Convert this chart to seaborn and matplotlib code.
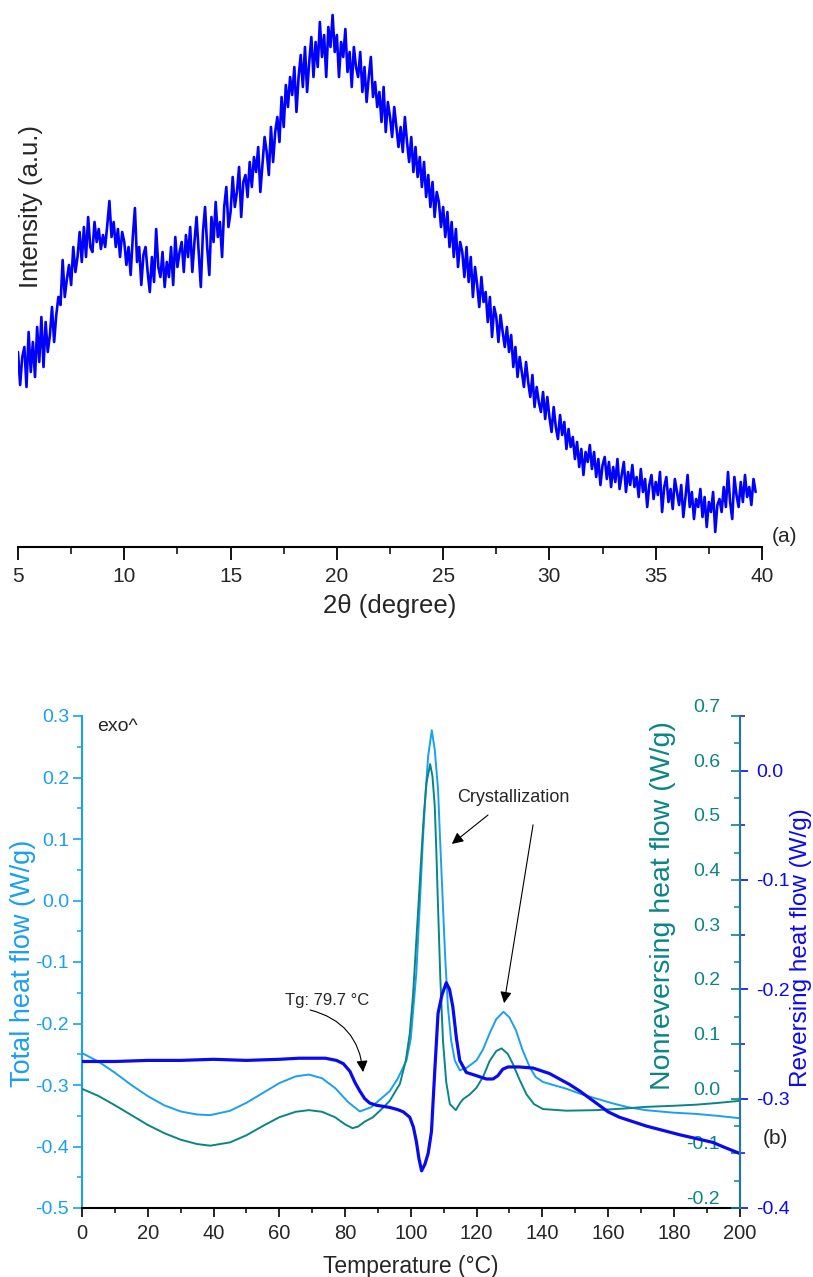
import numpy as np
import pandas as pd
import matplotlib
matplotlib.use("Agg")
import matplotlib.pyplot as plt
import seaborn as sns
from matplotlib.ticker import MultipleLocator

# ---------------- (a) XRD pattern ----------------
xrd_start = 5.0
xrd_step = 0.1
xrd_intensity = [
    195, 162, 190, 200, 160, 215, 175, 205, 170, 220,
    185, 230, 180, 225, 195, 212, 240, 205, 232, 250,
    242, 287, 250, 268, 282, 262, 300, 275, 290, 315,
    285, 320, 290, 330, 300, 295, 325, 305, 318, 298,
    312, 300, 322, 346, 310, 325, 300, 318, 290, 315,
    305, 282, 300, 272, 310, 339, 285, 300, 262, 292,
    300, 275, 255, 290, 265, 318, 280, 270, 295, 260,
    285, 270, 300, 262, 310, 280, 295, 305, 275, 312,
    290, 320, 275, 305, 330, 295, 260, 315, 340, 300,
    272, 330, 305, 345, 310, 325, 290, 340, 360, 320,
    335, 370, 340, 355, 380, 330, 365, 372, 350, 385,
    360, 390, 375, 400, 355, 382, 410, 395, 372, 420,
    385, 415, 430, 405, 450, 420, 462, 440, 470, 452,
    480, 435, 470, 492, 460, 500, 455, 485, 510, 470,
    505, 480, 525, 490, 512, 470, 520, 500, 532, 495,
    512, 470, 505, 490, 518, 475, 495, 460, 500, 480,
    470, 495, 455, 480, 445, 470, 490, 450, 465, 440,
    455, 425, 460, 415, 445, 430, 410, 440, 420, 400,
    420, 395, 430, 405, 385, 410, 375, 400, 370, 390,
    360, 385, 350, 372, 340, 365, 330, 355, 345, 320,
    340, 310, 335, 300, 325, 290, 318, 280, 305, 295,
    270, 300, 265, 290, 250, 280, 262, 240, 270, 245,
    255, 225, 250, 210, 240, 230, 205, 232, 215, 200,
    220, 195, 212, 180, 200, 170, 190, 175, 160, 185,
    165, 150, 172, 140, 160, 145, 135, 155, 128, 150,
    130, 115, 140, 120, 108, 132, 112, 125, 98, 118,
    100, 110, 88, 105, 80, 98, 72, 95, 85, 102,
    78, 95, 70, 88, 62, 82, 90, 68, 85, 60,
    80, 65, 88, 58, 72, 85, 55, 75, 62, 82,
    60, 70, 50, 78, 55, 68, 40, 62, 72, 48,
    65, 52, 75, 35, 60, 70, 45, 58, 38, 68,
    55, 42, 62, 30, 50, 72, 40, 55, 28, 48,
    40, 58, 30, 50, 20, 45, 35, 55, 15, 42,
    48, 35, 60, 40, 75, 45, 28, 70, 52, 40,
    65, 45, 72, 50, 60, 42, 68, 55,
]
two_theta = [round(xrd_start + xrd_step * i, 2) for i in range(len(xrd_intensity))]
xrd_ticks = [5, 10, 15, 20, 25, 30, 35, 40]

# ---------------- (b) DSC curves ----------------
total_T = [0, 5, 10, 15, 20, 25, 30, 35, 39, 45, 50, 55, 60, 65, 69, 73, 77, 81,
           84.5, 88, 91, 93.6, 96, 98.7, 100, 101.7, 103, 103.7, 104.5, 105.3,
           106.4, 107.3, 108.3, 109, 109.8, 110.5, 111.3, 112.3, 113.4, 114.9,
           117, 120, 122, 124, 126, 128.2, 130, 132, 134, 136.2, 138, 140.2,
           144, 147.3, 151.4, 156.4, 161.5, 166, 171.6, 180, 186.8, 193, 200]
total_hf = [-0.248, -0.262, -0.280, -0.300, -0.318, -0.333, -0.343, -0.348, -0.349,
            -0.342, -0.329, -0.313, -0.297, -0.286, -0.283, -0.289, -0.305, -0.328,
            -0.343, -0.336, -0.322, -0.310, -0.290, -0.260, -0.225, -0.118, 0.020,
            0.099, 0.175, 0.235, 0.277, 0.245, 0.181, 0.090, -0.010, -0.095, -0.173,
            -0.228, -0.260, -0.276, -0.272, -0.260, -0.242, -0.216, -0.193, -0.181,
            -0.190, -0.211, -0.243, -0.271, -0.287, -0.295, -0.301, -0.306, -0.314,
            -0.322, -0.330, -0.336, -0.341, -0.345, -0.347, -0.350, -0.354]

nonrev_T = [0, 5, 10, 15, 20, 25, 30, 35, 39, 45, 50, 55, 60, 65, 69, 73, 77, 80,
            82.3, 84, 86, 88.5, 91.5, 93.6, 96.7, 98.5, 99.7, 100.7, 101.7, 102.5,
            103.2, 104, 104.8, 105.9, 106.6, 107.3, 107.8, 108.3, 109, 109.8, 110.8,
            111.9, 113.7, 115, 115.9, 118, 120, 122, 124, 126, 127.6, 129.5, 131.1,
            133, 135.2, 137.5, 140.2, 147.3, 156.4, 165, 171.6, 180, 186.8, 193, 200]
nonrev_hf = [0.018, 0.005, -0.012, -0.030, -0.048, -0.063, -0.075, -0.083, -0.086,
             -0.080, -0.067, -0.050, -0.034, -0.024, -0.021, -0.024, -0.034, -0.047,
             -0.054, -0.051, -0.042, -0.034, -0.017, -0.004, 0.027, 0.070, 0.119,
             0.190, 0.290, 0.370, 0.443, 0.520, 0.578, 0.612, 0.590, 0.535, 0.450,
             0.351, 0.220, 0.106, 0.030, -0.010, -0.021, -0.008, -0.001, 0.008, 0.020,
             0.040, 0.069, 0.087, 0.092, 0.082, 0.063, 0.036, 0.008, -0.010, -0.019,
             -0.022, -0.021, -0.018, -0.015, -0.013, -0.011, -0.008, -0.004]

rev_T = [0, 10, 20, 30, 40, 50, 60, 66, 70, 74, 77.4, 79.5, 81.5, 83, 84.5, 86,
         87.5, 89.5, 93.6, 96, 97.7, 99.7, 100.8, 101.7, 102.5, 103.3, 104.3, 105.3,
         106.3, 107.3, 108.3, 109.5, 110.8, 111.8, 112.8, 113.9, 114.9, 116.9, 120,
         123, 125, 126.5, 128, 129.6, 133, 137.2, 142.2, 148.3, 151.4, 156.4, 160,
         163.5, 171.6, 181.8, 191.9, 195, 200]
rev_hf = [-0.266, -0.266, -0.265, -0.265, -0.264, -0.265, -0.264, -0.263, -0.263,
          -0.263, -0.265, -0.268, -0.275, -0.285, -0.293, -0.300, -0.304, -0.306,
          -0.308, -0.310, -0.312, -0.317, -0.326, -0.339, -0.355, -0.366, -0.360,
          -0.350, -0.330, -0.275, -0.222, -0.205, -0.194, -0.200, -0.216, -0.245,
          -0.265, -0.276, -0.279, -0.282, -0.282, -0.279, -0.273, -0.271, -0.271,
          -0.272, -0.277, -0.287, -0.293, -0.304, -0.312, -0.317, -0.325, -0.333,
          -0.340, -0.344, -0.350]

# ---------------- style ----------------
sns.set_theme(style="ticks")
plt.rcParams["font.family"] = ["Liberation Sans", "DejaVu Sans"]
plt.rcParams["axes.unicode_minus"] = False

C_TOTAL = "#1AA0F0"
C_NONREV = "#0A8585"
C_REV = "#0A0AEE"
C_RSPINE = "#2478A0"

fig = plt.figure(figsize=(8.13, 12.77), dpi=100)
W, H = 813.0, 1277.0

# ================= panel (a) =================
axA = fig.add_axes([18 / W, (H - 547) / H, (762 - 18) / W, (547 - 10) / H])
sns.lineplot(x=two_theta, y=xrd_intensity, ax=axA, color="#0000FF", lw=1.9,
             estimator=None, sort=False)
axA.set_xlim(5, 40)
axA.set_ylim(0, 537)
axA.set_yticks([])
for s in ["left", "top", "right"]:
    axA.spines[s].set_visible(False)
axA.spines["bottom"].set_linewidth(1.5)
axA.spines["bottom"].set_color("black")
axA.set_xticks(xrd_ticks)
axA.xaxis.set_minor_locator(MultipleLocator(2.5))
axA.tick_params(axis="x", which="major", length=9, width=1.3, labelsize=15,
                direction="out", color="black", pad=5.5)
axA.tick_params(axis="x", which="minor", length=5, width=1.1, direction="out",
                color="black")
axA.set_xlabel("2θ (degree)", fontsize=18.5, labelpad=6)
axA.set_ylabel("Intensity (a.u.)", fontsize=18.5)
axA.yaxis.set_label_coords(0.034, 0.635)
axA.text(1.013, 0.019, "(a)", transform=axA.transAxes, ha="left", va="center",
         fontsize=15)

# ================= panel (b) =================
axB = fig.add_axes([82 / W, (H - 1208) / H, (739.5 - 82) / W, (1208 - 716) / H])
ax2 = axB.twinx()
ax3 = axB.twinx()

sns.lineplot(x=total_T, y=total_hf, ax=axB, color=C_TOTAL, lw=1.4,
             estimator=None, sort=False)
sns.lineplot(x=nonrev_T, y=nonrev_hf, ax=ax2, color=C_NONREV, lw=1.4,
             estimator=None, sort=False)
sns.lineplot(x=rev_T, y=rev_hf, ax=ax3, color=C_REV, lw=2.3,
             estimator=None, sort=False)

axB.set_xlim(0, 200)
axB.set_ylim(-0.5, 0.3)
ax2.set_ylim(-0.2, 0.7)
ax3.set_ylim(-0.4, 0.05)

# left axis (total)
for s in ["top", "right"]:
    axB.spines[s].set_visible(False)
axB.spines["left"].set_color(C_TOTAL)
axB.spines["left"].set_linewidth(1.5)
axB.spines["bottom"].set_color("black")
axB.spines["bottom"].set_linewidth(1.5)
axB.set_yticks([0.3, 0.2, 0.1, 0.0, -0.1, -0.2, -0.3, -0.4, -0.5])
axB.set_yticklabels(["0.3", "0.2", "0.1", "0.0", "-0.1", "-0.2", "-0.3", "-0.4", "-0.5"])
axB.yaxis.set_minor_locator(MultipleLocator(0.05))
axB.tick_params(axis="y", which="major", length=6.7, width=1.2, color=C_TOTAL,
                labelcolor=C_TOTAL, labelsize=14, pad=2.5)
axB.tick_params(axis="y", which="minor", length=3.8, width=1.1, color=C_TOTAL)
axB.set_xticks([0, 20, 40, 60, 80, 100, 120, 140, 160, 180, 200])
axB.xaxis.set_minor_locator(MultipleLocator(10))
axB.tick_params(axis="x", which="major", length=6.5, width=1.2, color="black",
                labelsize=14.5, pad=5)
axB.tick_params(axis="x", which="minor", length=3.8, width=1.1, color="black")
axB.set_xlabel("Temperature (°C)", fontsize=16.5, labelpad=9)
axB.set_ylabel("Total heat flow (W/g)", fontsize=19.5, color=C_TOTAL)
axB.yaxis.set_label_coords(-0.070, 0.498)

# teal axis (nonreversing): spine at the right edge, labels inside
for s in ["top", "bottom", "right"]:
    ax2.spines[s].set_visible(False)
ax2.spines["left"].set_visible(True)
ax2.spines["left"].set_position(("axes", 1.0))
ax2.spines["left"].set_color(C_RSPINE)
ax2.spines["left"].set_linewidth(1.5)
ax2.yaxis.set_ticks_position("left")
ax2.yaxis.set_label_position("left")
nonrev_ticks = [0.7, 0.6, 0.5, 0.4, 0.3, 0.2, 0.1, 0.0, -0.1, -0.2]
ax2.set_yticks(nonrev_ticks, ["0.7", "0.6", "0.5", "0.4", "0.3", "0.2", "0.1",
                              "0.0", "-0.1", "-0.2"], va="bottom")
ax2.yaxis.set_minor_locator(MultipleLocator(0.05))
ax2.tick_params(axis="y", which="major", direction="out", length=6.5, width=1.2,
                color=C_NONREV, labelcolor=C_NONREV, labelsize=14, pad=7.5)
ax2.tick_params(axis="y", which="minor", direction="out", length=4.3, width=1.1,
                color=C_NONREV)
ax2.set_ylabel("Nonreversing heat flow (W/g)", fontsize=20.5, color=C_NONREV)
ax2.yaxis.label.set_horizontalalignment("left")
ax2.yaxis.set_label_coords(0.9035, 0.24)

# blue axis (reversing)
for s in ["top", "bottom", "left"]:
    ax3.spines[s].set_visible(False)
ax3.spines["right"].set_color(C_RSPINE)
ax3.spines["right"].set_linewidth(1.5)
ax3.set_yticks([0.0, -0.1, -0.2, -0.3, -0.4], ["0.0", "-0.1", "-0.2", "-0.3", "-0.4"])
ax3.yaxis.set_minor_locator(MultipleLocator(0.05))
ax3.tick_params(axis="y", which="major", direction="out", length=6, width=1.2,
                color=C_REV, labelcolor=C_REV, labelsize=14, pad=6)
ax3.tick_params(axis="y", which="minor", direction="out", length=3.5, width=1.1,
                color=C_REV)
ax3.set_ylabel("Reversing heat flow (W/g)", fontsize=17.5, color=C_REV)
ax3.yaxis.set_label_coords(1.077, 0.53)

# annotations
axB.text(0.023, 0.978, "exo^", transform=axB.transAxes, ha="left", va="center",
         fontsize=14)
axB.text(114.1, 0.167, "Crystallization", ha="left", va="center", fontsize=13)
axB.annotate("", xy=(112.5, 0.092), xytext=(123.5, 0.139),
             arrowprops=dict(arrowstyle="-|>", color="black", lw=0.8,
                             mutation_scale=17, shrinkA=0, shrinkB=0))
axB.annotate("", xy=(128.4, -0.167), xytext=(137.2, 0.123),
             arrowprops=dict(arrowstyle="-|>", color="black", lw=0.8,
                             mutation_scale=17, shrinkA=0, shrinkB=0))
axB.text(61.7, -0.162, "Tg: 79.7 °C", ha="left", va="center", fontsize=12)
axB.annotate("", xy=(85.5, -0.279), xytext=(69.4, -0.178),
             arrowprops=dict(arrowstyle="-|>", color="black", lw=0.8,
                             mutation_scale=17, shrinkA=0, shrinkB=0,
                             connectionstyle="arc3,rad=-0.35"))
axB.text(1.054, 0.142, "(b)", transform=axB.transAxes, ha="center", va="center",
         fontsize=15)

fig.savefig("out.png", dpi=100, facecolor="white")
